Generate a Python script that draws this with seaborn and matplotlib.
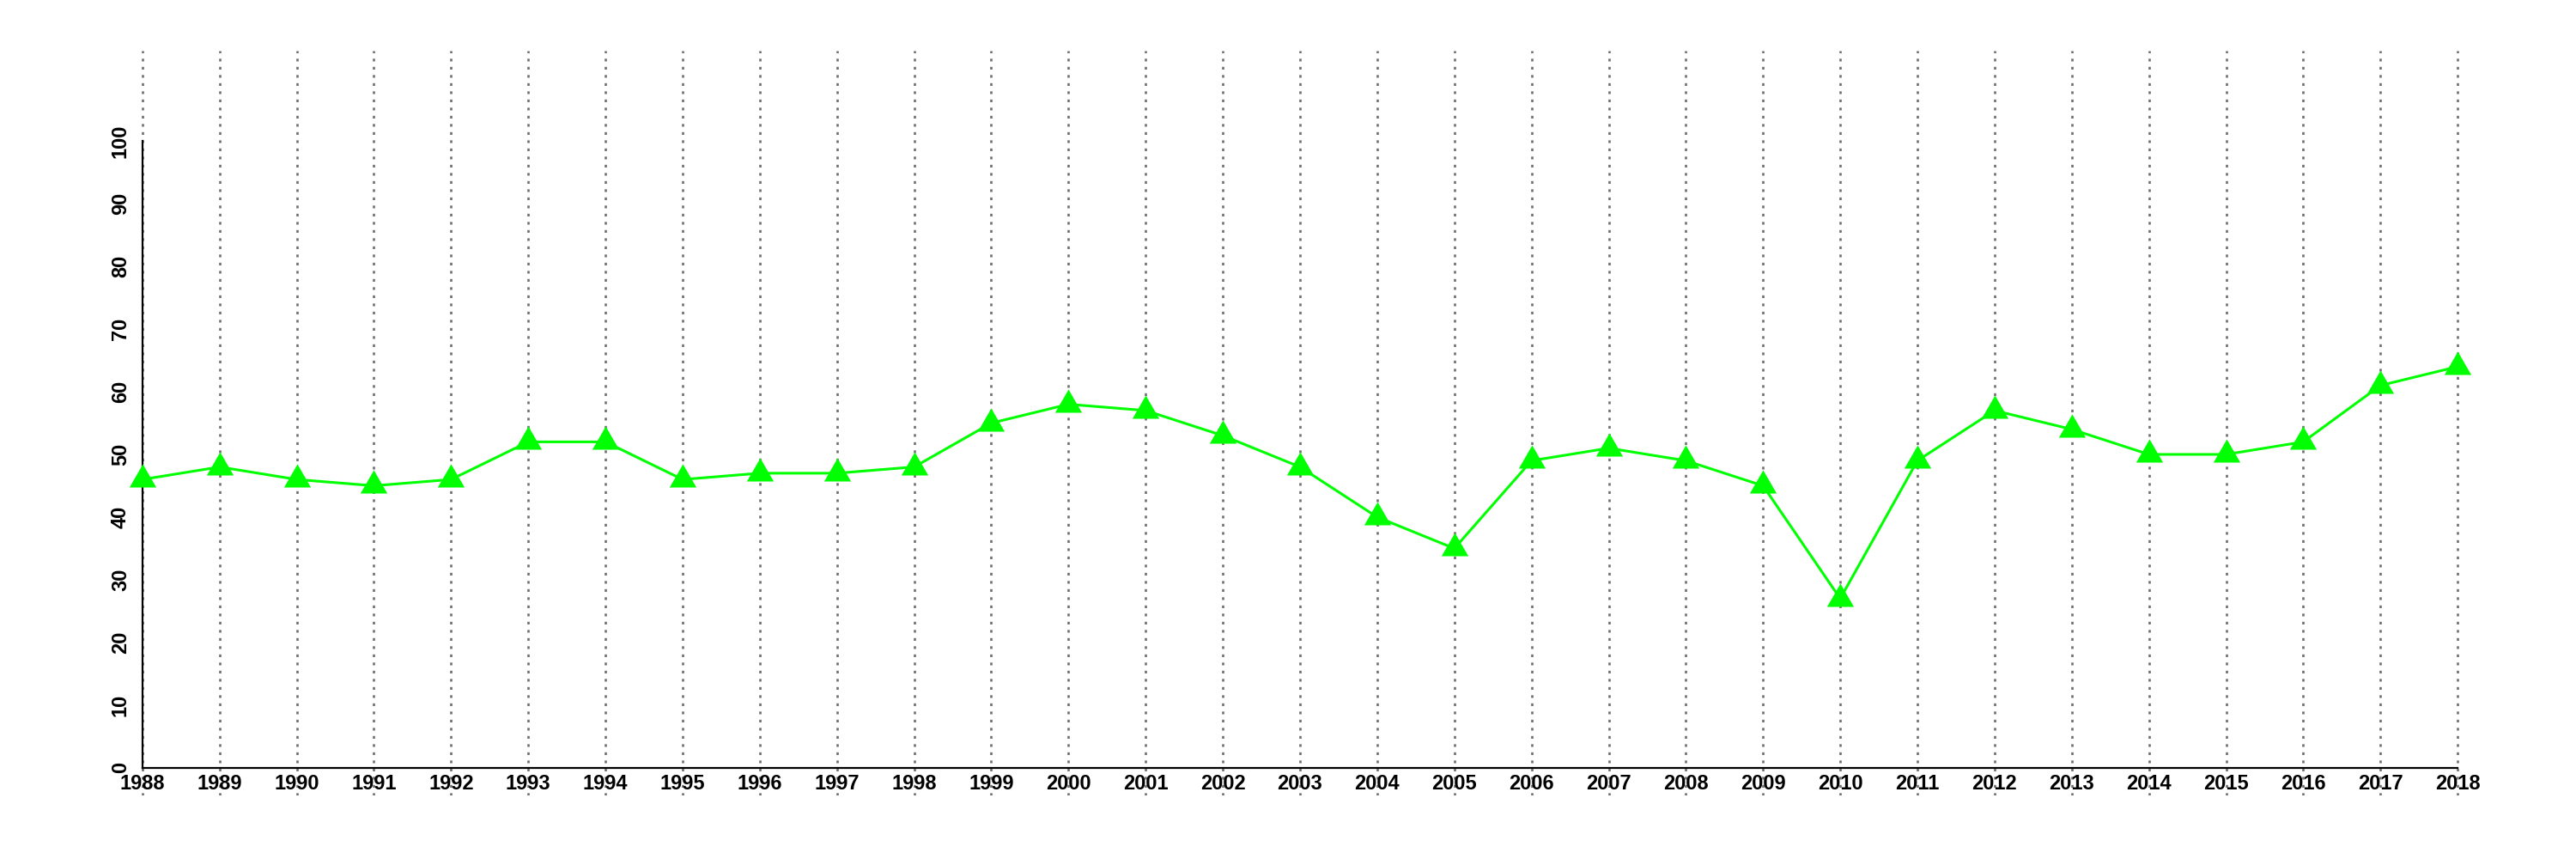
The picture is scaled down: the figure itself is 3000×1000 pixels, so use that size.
import matplotlib
matplotlib.use("Agg")
import matplotlib.pyplot as plt
import seaborn as sns
import numpy as np
import pandas as pd
from matplotlib.path import Path

years = list(range(1988, 2019))
values = [46, 48, 46, 45, 46, 52, 52, 46, 47, 47, 48, 55, 58, 57, 53, 48,
          40, 35, 49, 51, 49, 45, 27, 49, 57, 54, 50, 50, 52, 61, 64]
y_ticks = list(range(0, 101, 10))

sns.set_style("white")
plt.rcParams['font.family'] = ['Liberation Sans', 'DejaVu Sans']
plt.rcParams['font.weight'] = 'bold'
plt.rcParams['xtick.labelsize'] = 17
plt.rcParams['ytick.labelsize'] = 17

fig = plt.figure(figsize=(30, 10), dpi=100)
ax = fig.add_axes([58 / 3000, 0.074, (2970 - 58) / 3000, 0.941 - 0.074])

df = pd.DataFrame({"year": years, "value": values})

tri = Path([(0, 1), (-0.866, -0.5), (0.866, -0.5), (0, 1)],
           [Path.MOVETO, Path.LINETO, Path.LINETO, Path.CLOSEPOLY])

ax.xaxis.grid(True, linestyle=(0, (1.2, 2.4)), color="#707070", linewidth=1.9)
ax.set_axisbelow(True)

sns.lineplot(data=df, x="year", y="value", ax=ax, color="#00FF00",
             linewidth=2.2, marker=tri, markersize=26, markeredgewidth=0,
             markerfacecolor="#00FF00", zorder=3)

ax.set_xlim(1986.8, 2019.2)
ax.set_ylim(-4.4, 114.4)
ax.set_xlabel("")
ax.set_ylabel("")

for s in ["top", "right"]:
    ax.spines[s].set_visible(False)
ax.spines["left"].set_position(("data", 1988))
ax.spines["left"].set_bounds(0, 100)
ax.spines["bottom"].set_position(("data", 0))
ax.spines["bottom"].set_bounds(1988, 2018)
for s in ["left", "bottom"]:
    ax.spines[s].set_color("black")
    ax.spines[s].set_linewidth(1.6)

ax.tick_params(axis="both", direction="out", length=5, width=1.6, color="black",
               labelcolor="black", labelsize=17)
ax.tick_params(axis="x", pad=0)
ax.tick_params(axis="y", pad=5, labelrotation=90)

ax.set_xticks(years)
ax.set_xticklabels([str(y) for y in years], fontsize=17, fontweight="bold")
ax.set_yticks(y_ticks)
ax.set_yticklabels([str(v) for v in y_ticks], fontsize=17, fontweight="bold",
                   rotation=90, va="center")

fig.savefig("out.png", dpi=100, facecolor="white")
